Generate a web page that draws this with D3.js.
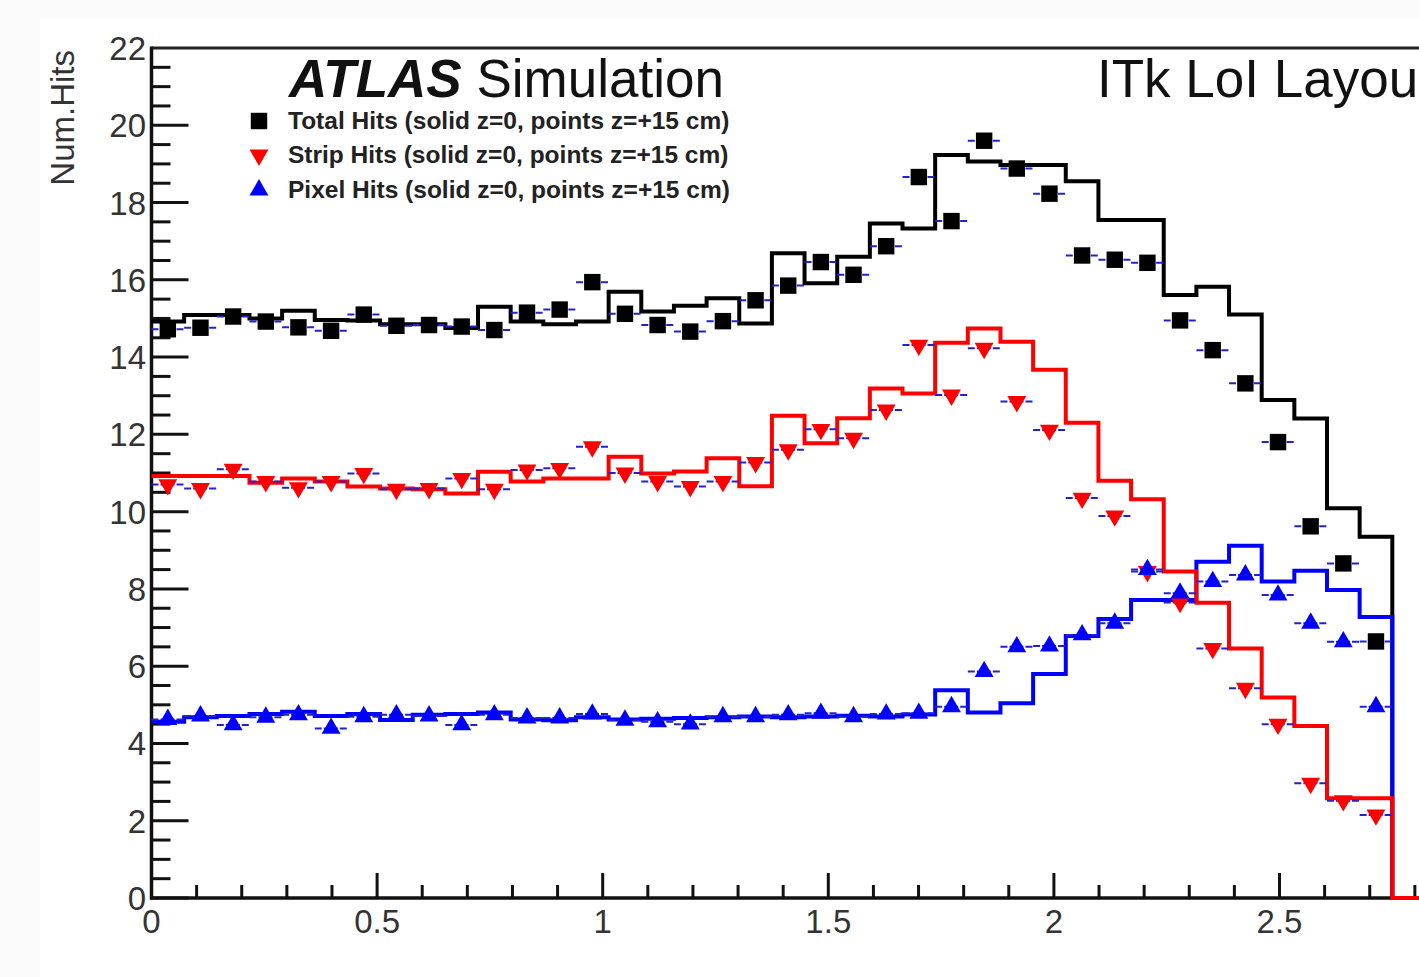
<!DOCTYPE html>
<html><head><meta charset="utf-8">
<script src="https://cdn.jsdelivr.net/npm/d3@7"></script>
<style>
body{margin:0;background:#fafafa;overflow:hidden;}
text{font-family:"Liberation Sans", Arial, Helvetica, sans-serif;}
</style>
</head><body>
<svg id="chart" width="1419" height="977"></svg>
<script>
// ---- data ----
const etaMin = 0, etaMax = 2.75, nBins = 38;
const totalZ0 = [14.92,15.09,15.09,15.0,15.2,14.96,14.95,14.85,14.85,14.75,15.3,14.92,14.85,14.92,15.69,15.18,15.33,15.52,14.87,16.69,15.91,16.6,17.46,17.33,19.23,19.06,18.97,18.97,18.55,17.55,17.55,15.61,15.82,15.1,12.89,12.41,10.09,9.35];
const totalZ15 = [14.72,14.76,15.05,14.92,14.77,14.68,15.1,14.81,14.83,14.79,14.7,15.15,15.23,15.94,15.12,14.83,14.66,14.93,15.47,15.85,16.46,16.13,16.87,18.66,17.52,19.6,18.88,18.23,16.63,16.52,16.44,14.95,14.18,13.32,11.8,9.62,8.66,6.64];
const stripZ0 = [10.92,10.92,10.92,10.75,10.86,10.78,10.65,10.6,10.58,10.47,11.03,10.78,10.86,10.86,11.42,10.99,11.04,11.38,10.66,12.48,11.77,12.42,13.19,13.06,14.37,14.74,14.4,13.67,12.3,10.8,10.32,8.45,7.64,6.46,5.19,4.45,2.58,2.58];
const stripZ15 = [10.7,10.6,11.1,10.78,10.62,10.78,10.99,10.58,10.6,10.86,10.58,11.08,11.12,11.68,11.0,10.78,10.65,10.78,11.27,11.6,12.13,11.9,12.63,14.31,13.02,14.23,12.85,12.11,10.35,9.89,8.45,7.65,6.46,5.43,4.5,2.97,2.52,2.15];
const pixelZ0 = [4.56,4.68,4.71,4.76,4.82,4.71,4.76,4.61,4.74,4.76,4.8,4.62,4.6,4.68,4.62,4.64,4.66,4.68,4.7,4.68,4.7,4.72,4.7,4.75,5.38,4.8,5.04,5.8,6.78,7.22,7.71,7.71,8.7,9.12,8.19,8.47,7.97,7.27];
const pixelZ15 = [4.62,4.71,4.48,4.68,4.74,4.39,4.69,4.74,4.71,4.48,4.74,4.66,4.66,4.76,4.6,4.56,4.5,4.69,4.69,4.74,4.78,4.69,4.76,4.78,4.95,5.86,6.5,6.52,6.81,7.11,8.5,7.89,8.19,8.36,7.84,7.11,6.63,4.95];
const xTickLabels = [0,0.5,1,1.5,2,2.5];
const yTickLabels = [0,2,4,6,8,10,12,14,16,18,20,22];
const legendLabels = [
  "Total Hits (solid z=0, points z=+15 cm)",
  "Strip Hits (solid z=0, points z=+15 cm)",
  "Pixel Hits (solid z=0, points z=+15 cm)"
];
const seriesColors = ["#000000", "#ff0000", "#0000ff"];

// ---- layout ----
const svg = d3.select("#chart");
svg.append("rect").attr("x",40).attr("y",18).attr("width",1379).attr("height",959).attr("fill","#ffffff");

const x = d3.scaleLinear().domain([0, 3]).range([151.5, 151.5 + 3*451.2]);
const y = d3.scaleLinear().domain([0, 22]).range([898, 48]);
const bw = (etaMax - etaMin) / nBins;
const edges = d3.range(nBins + 1).map(i => etaMin + i * bw);

// frame top line
svg.append("line").attr("x1", x(0)).attr("x2", 1419).attr("y1", y(22)).attr("y2", y(22))
  .attr("stroke", "#222").attr("stroke-width", 3);

// axes
const xAxisG = svg.append("g");
const yAxisG = svg.append("g");
d3.range(0, 30).map(i => i / 10).forEach(t => {
  const major = Math.abs(t * 2 - Math.round(t * 2)) < 1e-6;
  xAxisG.append("line").attr("x1", x(t)).attr("x2", x(t)).attr("y1", y(0)).attr("y2", y(0) - (major ? 25 : 13))
    .attr("stroke", "#111").attr("stroke-width", 3);
});
xAxisG.append("line").attr("x1", x(0) - 1.5).attr("x2", 1419).attr("y1", y(0)).attr("y2", y(0))
  .attr("stroke", "#111").attr("stroke-width", 3.5);
xTickLabels.forEach(t => {
  xAxisG.append("text").attr("x", x(t)).attr("y", 933).attr("text-anchor", "middle")
    .attr("font-size", 33).attr("fill", "#333").text(t);
});
d3.range(0, 44).map(i => i / 2).forEach(t => {
  const major = t % 2 === 0;
  yAxisG.append("line").attr("x1", x(0)).attr("x2", x(0) + (major ? 37 : 19)).attr("y1", y(t)).attr("y2", y(t))
    .attr("stroke", "#111").attr("stroke-width", 3);
});
yAxisG.append("line").attr("x1", x(0)).attr("x2", x(0)).attr("y1", y(22) - 1.5).attr("y2", y(0) + 1.5)
  .attr("stroke", "#111").attr("stroke-width", 3.5);
yTickLabels.forEach(t => {
  yAxisG.append("text").attr("x", 146).attr("y", y(t) + 12).attr("text-anchor", "end")
    .attr("font-size", 33).attr("fill", "#333").text(t);
});
svg.append("text").attr("transform", `translate(74,${y(22) + 2}) rotate(-90)`).attr("text-anchor", "end")
  .attr("font-size", 33).attr("fill", "#333").text("Num.Hits");

// histograms (step lines), drawn over the axes like the original
function stepPath(vals) {
  let p = `M${x(edges[0])},${y(vals[0])}`;
  vals.forEach((v, i) => {
    p += `H${x(edges[i+1])}`;
    if (i < vals.length - 1) p += `V${y(vals[i+1])}`;
  });
  p += `V${y(0)}H${x(3)}`;
  return p;
}
const hists = [[totalZ0, 0], [pixelZ0, 2], [stripZ0, 1]];
hists.forEach(([vals, ci]) => {
  svg.append("path").attr("d", stepPath(vals)).attr("fill", "none")
    .attr("stroke", seriesColors[ci]).attr("stroke-width", 4).attr("stroke-linejoin", "miter");
});

// points with horizontal error bars
const centers = d3.range(nBins).map(i => etaMin + (i + 0.5) * bw);
const sq = d3.symbol().type(d3.symbolSquare).size(270);
const tri = d3.symbol().type(d3.symbolTriangle).size(155);
function drawPoints(vals, kind, color) {
  const g = svg.append("g");
  vals.forEach((v, i) => {
    g.append("line").attr("x1", x(edges[i])).attr("x2", x(edges[i+1])).attr("y1", y(v)).attr("y2", y(v))
      .attr("stroke", "#2222cc").attr("stroke-width", 2).attr("stroke-dasharray", "7,2,14,2,7");
  });
  vals.forEach((v, i) => {
    const rot = kind === "down" ? 180 : 0;
    g.append("path").attr("d", kind === "square" ? sq() : tri())
      .attr("transform", `translate(${x(centers[i])},${y(v)}) rotate(${rot})`)
      .attr("fill", color);
  });
}
drawPoints(totalZ15, "square", seriesColors[0]);
drawPoints(stripZ15, "down", seriesColors[1]);
drawPoints(pixelZ15, "up", seriesColors[2]);

// labels
const t1 = svg.append("text").attr("x", 289).attr("y", 97).attr("font-size", 53).attr("fill", "#111");
t1.append("tspan").attr("font-weight", "bold").attr("font-style", "italic").text("ATLAS");
t1.append("tspan").text(" Simulation");
svg.append("text").attr("x", 1097).attr("y", 97).attr("font-size", 53).attr("fill", "#111").text("ITk LoI Layout");

// legend
const legY = [121, 155, 190];
const kinds = ["square", "down", "up"];
legendLabels.forEach((lab, i) => {
  const rot = kinds[i] === "down" ? 180 : 0;
  svg.append("path").attr("d", kinds[i] === "square" ? sq() : tri())
    .attr("transform", `translate(259,${legY[i]}) rotate(${rot})`).attr("fill", seriesColors[i]);
  svg.append("text").attr("x", 288).attr("y", legY[i] + 7.5).attr("font-size", 24.5).attr("font-weight", "bold")
    .attr("fill", "#222").text(lab);
});
</script>
</body></html>
